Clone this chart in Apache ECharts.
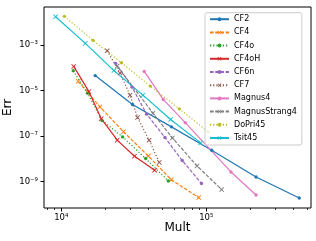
<!DOCTYPE html>
<html><head><meta charset="utf-8">
<script src="https://cdn.jsdelivr.net/npm/echarts@6/dist/echarts.min.js"></script>
<style>html,body{margin:0;padding:0;background:#fff}#c{width:316px;height:241px}</style>
</head><body><div id="c"></div>
<script>
// ---- data (Mult, Err) ----
const cf2Mult = [17140, 30970, 57540, 108900, 220300, 437500];
const cf2Err  = [4.55e-5, 2.455e-6, 2.535e-7, 2.393e-8, 1.596e-9, 1.901e-10];
const cf4Mult = [13090, 18490, 26850, 39810, 57410, 88720];
const cf4Err  = [2.55e-5, 1.92e-6, 1.56e-7, 1.33e-8, 1.20e-9, 1.98e-10];
const cf4oMult = [12100, 15170, 19100, 26490, 38190, 54700];
const cf4oErr  = [7.40e-5, 7.71e-6, 4.85e-7, 9.20e-8, 1.03e-8, 1.064e-9];
const cf4oHMult = [12190, 15520, 18880, 24320, 31990, 44060];
const cf4oHErr  = [1.153e-4, 8.97e-6, 5.82e-7, 6.59e-8, 1.30e-8, 3.15e-9];
const cf6nMult = [23710, 30760, 38820, 51880, 68230, 92680];
const cf6nErr  = [1.567e-4, 1.416e-5, 9.18e-7, 8.65e-8, 8.41e-9, 8.18e-10];
const cf7Mult = [20750, 25410, 29790, 33570, 40360, 47420];
const cf7Err  = [5.61e-4, 5.86e-5, 6.30e-6, 6.58e-7, 6.59e-8, 6.95e-9];
const magnus4Mult = [37330, 50470, 71610, 147900, 220300];
const magnus4Err  = [6.95e-5, 4.07e-6, 3.88e-7, 2.65e-9, 2.58e-10];
const magnusStrang4Mult = [24320, 42850, 58340, 86300, 127600];
const magnusStrang4Err  = [1.191e-4, 1.016e-6, 8.32e-8, 4.86e-9, 4.46e-10];
const doPri45Mult = [10500, 16560, 26000, 41110, 65160, 102800];
const doPri45Err  = [1.832e-2, 1.611e-3, 1.663e-4, 1.567e-5, 1.570e-6, 1.56e-7];
const tsit45Mult = [9141, 14660, 23070, 36560, 56750, 91410];
const tsit45Err  = [1.762e-2, 1.189e-3, 7.55e-5, 6.30e-6, 5.37e-7, 5.01e-8];

const seriesNames = ['CF2','CF4','CF4o','CF4oH','CF6n','CF7','Magnus4','MagnusStrang4','DoPri45','Tsit45'];
const seriesMult = [cf2Mult, cf4Mult, cf4oMult, cf4oHMult, cf6nMult, cf7Mult, magnus4Mult, magnusStrang4Mult, doPri45Mult, tsit45Mult];
const seriesErr  = [cf2Err, cf4Err, cf4oErr, cf4oHErr, cf6nErr, cf7Err, magnus4Err, magnusStrang4Err, doPri45Err, tsit45Err];

const xTickValues = [1e4, 1e5];
const xTickLabels = ['10⁴', '10⁵'];
const xMinorTickValues = [8000, 9000, 2e4, 3e4, 4e4, 5e4, 6e4, 7e4, 8e4, 9e4, 2e5, 3e5, 4e5, 5e5];
const yTickValues = [1e-9, 1e-7, 1e-5, 1e-3];
const yTickLabels = ['10⁻⁹', '10⁻⁷', '10⁻⁵', '10⁻³'];
const xRange = [7603, 527200];
const yRange = [6.887e-11, 4.71e-2];

// ---- styles ----
const L = Math.log10;
const DOT = 'circle';
const X = 'path://M0,1.3L1.3,0L5,3.7L8.7,0L10,1.3L6.3,5L10,8.7L8.7,10L5,6.3L1.3,10L0,8.7L3.7,5Z';
const solid = 'solid', dashed = [3.6, 1.6], dotted = [1.2, 2];
const styles = [
  ['#1f77b4', solid, DOT], ['#ff7f0e', dashed, X], ['#2ca02c', dotted, DOT], ['#d62728', solid, X],
  ['#9467bd', dashed, DOT], ['#8c564b', dotted, X], ['#e377c2', solid, DOT], ['#7f7f7f', dashed, X],
  ['#bcbd22', dotted, DOT], ['#17becf', solid, X]
];

const series = seriesNames.map((name, i) => {
  const [color, type, sym] = styles[i];
  return {
    name, type: 'line', xAxisIndex: 0, yAxisIndex: 0,
    data: seriesMult[i].map((m, j) => [L(m), L(seriesErr[i][j])]),
    symbol: sym, symbolSize: sym === DOT ? 3.4 : 5, showSymbol: true,
    lineStyle: { color, width: 1.2, type, cap: 'butt' },
    itemStyle: { color, borderWidth: 0 },
    emphasis: { disabled: true }, animation: false, silent: true
  };
});

const font = 'DejaVu Sans';
const xLabelMap = {}; xTickValues.forEach((v, i) => xLabelMap[L(v).toFixed(3)] = xTickLabels[i]);
const yLabelMap = {}; yTickValues.forEach((v, i) => yLabelMap[L(v).toFixed(3)] = yTickLabels[i]);

const chart = echarts.init(document.getElementById('c'), null, { renderer: 'canvas' });
chart.setOption({
  animation: false,
  grid: { left: 44, top: 7, right: 5, bottom: 33, outerBoundsMode: 'none', containLabel: false,
    show: true, borderColor: '#000', borderWidth: 1, backgroundColor: 'transparent' },
  xAxis: [{
    type: 'value', min: L(xRange[0]), max: L(xRange[1]), position: 'bottom',
    splitLine: { show: false }, axisLine: { show: false },
    axisTick: { show: true, length: 3.5, lineStyle: { color: '#000', width: 1 }, customValues: xTickValues.map(L) },
    axisLabel: { show: true, margin: 5, color: '#000', fontSize: 8.5, fontFamily: font,
      customValues: xTickValues.map(L), formatter: v => xLabelMap[v.toFixed(3)] || '' },
    name: 'Mult', nameLocation: 'middle', nameGap: 14, nameMoveOverlap: false,
    nameTextStyle: { fontSize: 12, color: '#000', fontFamily: font }
  }, {
    type: 'value', min: L(xRange[0]), max: L(xRange[1]), position: 'bottom', offset: 0,
    splitLine: { show: false }, axisLine: { show: false },
    axisTick: { show: true, length: 2, lineStyle: { color: '#000', width: 0.8 }, customValues: xMinorTickValues.map(L) },
    axisLabel: { show: false }
  }],
  yAxis: [{
    type: 'value', min: L(yRange[0]), max: L(yRange[1]),
    splitLine: { show: false }, axisLine: { show: false },
    axisTick: { show: true, length: 3.5, lineStyle: { color: '#000', width: 1 }, customValues: yTickValues.map(L) },
    axisLabel: { show: true, margin: 6, color: '#000', fontSize: 8.5, fontFamily: font,
      customValues: yTickValues.map(L), formatter: v => yLabelMap[v.toFixed(3)] || '' },
    name: 'Err', nameLocation: 'middle', nameGap: 30, nameRotate: 90, nameMoveOverlap: false,
    nameTextStyle: { fontSize: 12, color: '#000', fontFamily: font }
  }],
  legend: {
    data: seriesNames, orient: 'vertical', left: 205, top: 12.7,
    itemWidth: 19, itemHeight: 5, itemGap: 5.2,
    padding: [2.5, 5, 3, 4],
    backgroundColor: 'rgba(255,255,255,0.8)', borderColor: '#cccccc', borderWidth: 1, borderRadius: 2,
    textStyle: { fontSize: 8, fontFamily: font, color: '#000', lineHeight: 8 },
    selectedMode: false
  },
  series
});
</script>
</body></html>
